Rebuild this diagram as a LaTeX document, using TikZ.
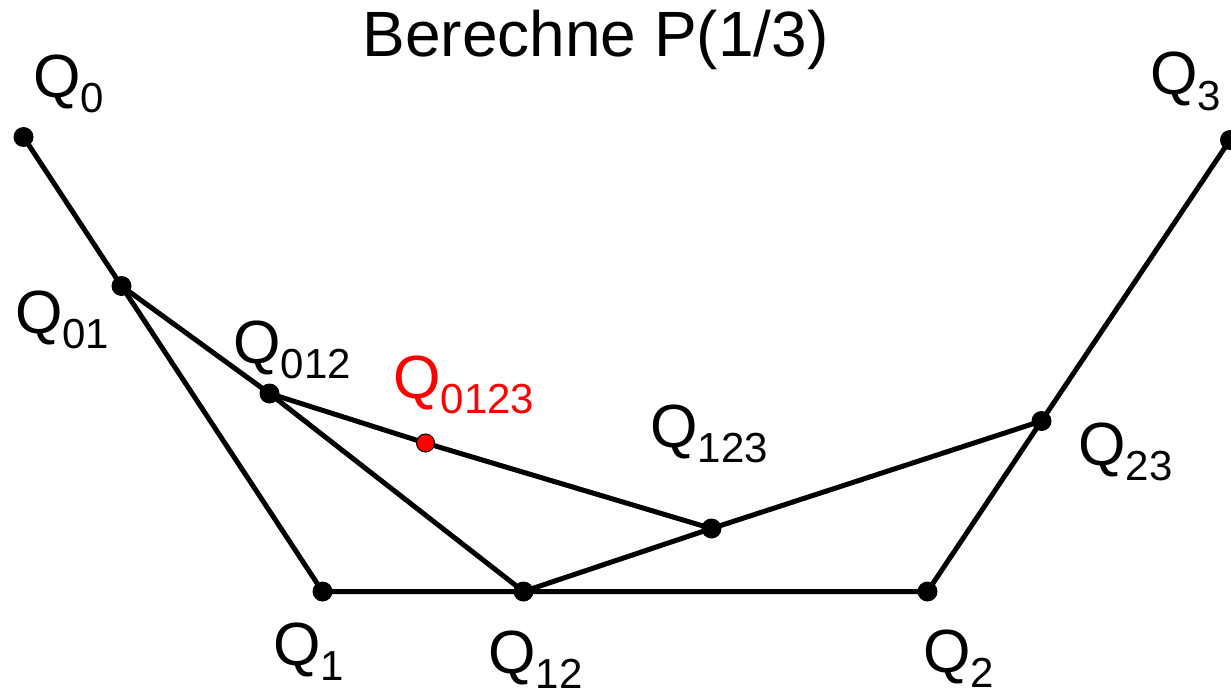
\documentclass[tikz,border=0pt]{standalone}
\usepackage{fontspec}
\setmainfont{Liberation Sans}
\newcommand{\qlab}[1]{Q\raisebox{-15pt}{\fontsize{42}{42}\selectfont #1}}
\tikzset{
  seg/.style={line width=5pt, line cap=round, line join=round},
  dot/.style={circle, fill=black, inner sep=0pt, minimum size=20pt},
  reddot/.style={circle, fill=red, draw=black, line width=1pt, inner sep=0pt, minimum size=18pt},
  lab/.style={anchor=base west, inner sep=0pt, font=\fontsize{61}{61}\selectfont},
}
\begin{document}
\begin{tikzpicture}[x=1pt,y=-1pt]
\useasboundingbox (0,0) rectangle (1231,693);
\coordinate (Q0) at (23.5,137);
\coordinate (Q01) at (121.5,286);
\coordinate (Q1) at (322.5,591.5);
\coordinate (Q12) at (523.5,591.5);
\coordinate (Q2) at (927.5,591.5);
\coordinate (Q23) at (1041.5,421);
\coordinate (Q3) at (1230,140);
\coordinate (Q012) at (269.5,393.5);
\coordinate (Q123) at (711.5,528.5);
\coordinate (Q0123) at (425.5,443);
% polygon and constructions
\draw[seg] (Q0) -- (Q01) -- (Q1) -- (Q12) -- (Q2) -- (Q23) -- (Q3);
\draw[seg] (Q01) -- (Q012) -- (Q12);
\draw[seg] (Q12) -- (Q123) -- (Q23);
\draw[seg] (Q012) -- (Q0123) -- (Q123);
% dots
\foreach \p in {Q0,Q01,Q1,Q12,Q2,Q23,Q3,Q012,Q123}
  \node[dot] (d\p) at (\p) {};
\node[reddot] (dQ0123) at (Q0123) {};
% labels
\node[lab] (title) at (595.5,57) [anchor=base] {\fontsize{64}{64}\selectfont Berechne P(1/3)};
\node[lab] (lQ0) at (33,97) {\qlab{0}};
\node[lab] (lQ01) at (15,333) {\qlab{01}};
\node[lab] (lQ012) at (233,363) {\qlab{012}};
\node[lab, text=red] (lQ0123) at (393,398) {\qlab{0123}};
\node[lab] (lQ123) at (650,447) {\qlab{123}};
\node[lab] (lQ1) at (273,665) {\qlab{1}};
\node[lab] (lQ12) at (488,673) {\qlab{12}};
\node[lab] (lQ2) at (923,672) {\qlab{2}};
\node[lab] (lQ23) at (1078,465) {\qlab{23}};
\node[lab] (lQ3) at (1150,95) {\qlab{3}};
\end{tikzpicture}
\end{document}
